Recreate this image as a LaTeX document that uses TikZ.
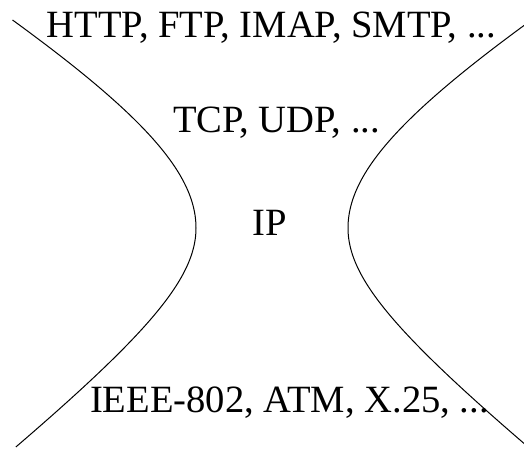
\documentclass[tikz,border=0pt]{standalone}
\usepackage{fontspec}
\setmainfont{Liberation Serif}
\begin{document}
\begin{tikzpicture}[x=1pt,y=-1pt,
  lbl/.style={anchor=base,inner sep=0pt,font=\fontsize{38.6}{46}\selectfont},
  curve/.style={line width=1pt,black}]
\useasboundingbox (0,0) rectangle (524,449);
\clip (0,0) rectangle (524,449);
\node[lbl] (app) at (271.5,38) {HTTP, FTP, IMAP, SMTP, ...};
\node[lbl] (trn) at (276.5,133) {TCP, UDP, ...};
\node[lbl] (net) at (270,235) {IP};
\node[lbl] (lnk) at (289.5,412) {IEEE-802, ATM, X.25, ...};
% left curve
\draw[curve] plot[domain=-208:0,samples=80,variable=\t] ({196-232*(sqrt(1+(\t/140)^2)-1)},{228+\t})
  -- plot[domain=0:219,samples=80,variable=\t] ({196-128*(sqrt(1+(\t/100)^2)-1)},{228+\t});
% right curve
\draw[curve] plot[domain=-215:0,samples=80,variable=\t] ({348+232*(sqrt(1+(\t/140)^2)-1)},{228+\t})
  -- plot[domain=0:225,samples=80,variable=\t] ({348+128*(sqrt(1+(\t/100)^2)-1)},{228+\t});
\end{tikzpicture}
\end{document}
